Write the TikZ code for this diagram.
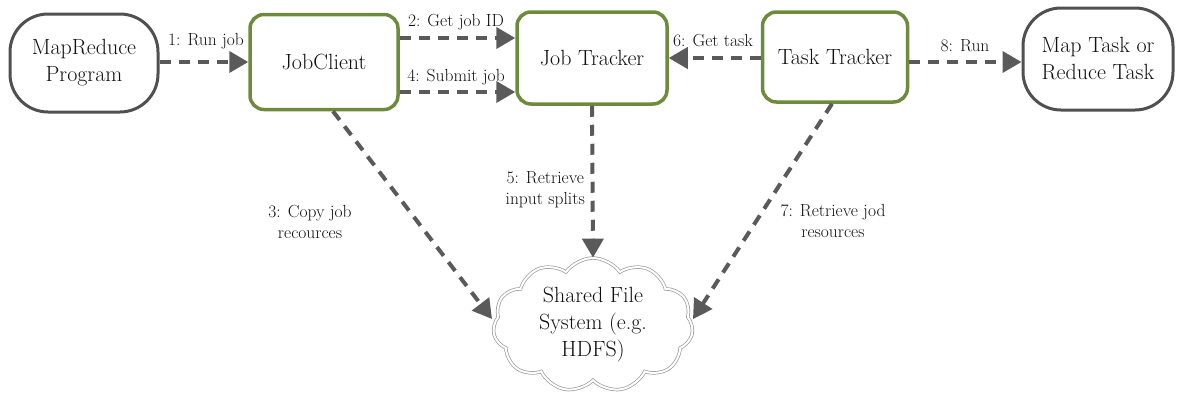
\documentclass[tikz,border=0pt]{standalone}
\usetikzlibrary{arrows.meta,shapes.symbols}
\definecolor{boxgreen}{HTML}{6E8B3D}
\definecolor{boxgray}{HTML}{505050}
\definecolor{arrowgray}{HTML}{5A5A5A}
\definecolor{txt}{HTML}{111111}
\begin{document}
\begin{tikzpicture}[x=1pt,y=-1pt,
  every node/.style={text=txt},
  pill/.style={draw=boxgray,line width=3pt,rounded corners=38pt,fill=white,
    align=center,font=\fontsize{22}{27}\selectfont,inner sep=0pt},
  greenbox/.style={draw=boxgreen,line width=3.5pt,rounded corners=14pt,fill=white,
    align=center,font=\fontsize{22}{27}\selectfont,inner sep=0pt},
  flow/.style={draw=arrowgray,line width=4pt,dash pattern=on 11pt off 8pt,
    -{Triangle[length=19pt,width=21pt]}},
  lbl/.style={font=\fontsize{17.5}{21}\selectfont,inner sep=1pt,align=center},
]
\useasboundingbox (0,0) rectangle (1179,394);

% components
\node[pill,minimum width=148pt,minimum height=98pt] (mr) at (84,63) {MapReduce\\Program};
\node[greenbox,minimum width=148pt,minimum height=95pt] (jc) at (324,62) {JobClient};
\node[greenbox,minimum width=150pt,minimum height=92pt] (jt) at (592,58) {Job Tracker};
\node[greenbox,minimum width=145pt,minimum height=90pt] (tt) at (835,57) {Task Tracker};
\node[pill,minimum width=150pt,minimum height=102pt] (mt) at (1098,59) {Map Task or\\Reduce Task};
\node[cloud,cloud puffs=11,cloud puff arc=110,aspect=1.5,draw=gray!80,line width=0.7pt,
  double=white,double distance=2pt,minimum width=200pt,minimum height=134pt,
  inner sep=0pt,align=center,font=\fontsize{22}{27}\selectfont] (fs) at (593,325)
  {Shared File\\System (e.g.\\HDFS)};

% connectors
\draw[flow] (mr.east |- 0,62) -- (jc.west |- 0,62);
\draw[flow] (jc.east |- 0,38) -- (jt.west |- 0,38);
\draw[flow] (jc.east |- 0,92) -- (jt.west |- 0,92);
\draw[flow] (tt.west |- 0,58) -- (jt.east |- 0,58);
\draw[flow] (tt.east |- 0,62) -- (mt.west |- 0,62);
\coordinate (c3) at (492,319);
\coordinate (c7) at (693,319);
\draw[flow] (jc.south -| 333,0) -- (c3);
\draw[flow] (jt.south) -- (fs.north);
\draw[flow] (tt.south -| 832,0) -- (c7);

% labels
\node[lbl] (l1) at (206,41) {1: Run job};
\node[lbl] (l2) at (456,22) {2: Get job ID};
\node[lbl] (l4) at (456,77) {4: Submit job};
\node[lbl] (l6) at (713,41) {6: Get task};
\node[lbl] (l8) at (965,46) {8: Run};
\node[lbl] (l3) at (310,222) {3: Copy job\\recources};
\node[lbl,anchor=east] (l5) at (586,190) {5: Retrieve\\input splits};
\node[lbl] (l7) at (833,221) {7: Retrieve jod\\resources};
\end{tikzpicture}
\end{document}
